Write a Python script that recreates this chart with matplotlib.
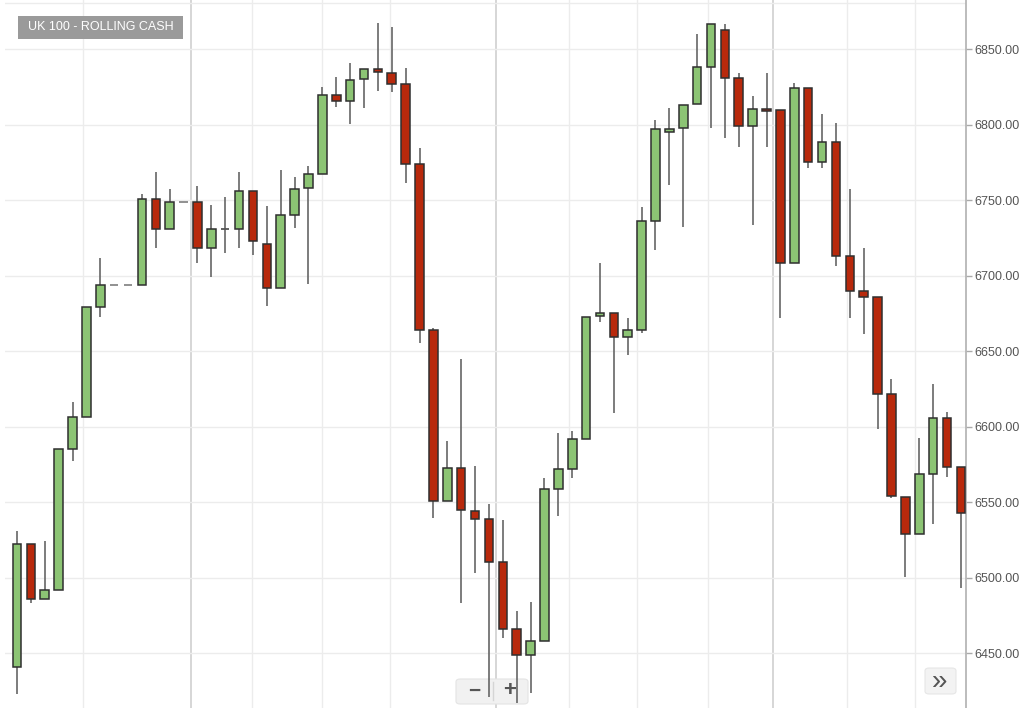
import matplotlib
matplotlib.use("Agg")
import matplotlib.pyplot as plt
from matplotlib.patches import FancyBboxPatch, Rectangle

plt.rcParams['font.family'] = ['Liberation Sans', 'DejaVu Sans']

# OHLC values (UK 100 rolling cash)
opens = [6441, 6522, 6486, 6492, 6585, 6606, 6679, 6694, 6694, 6694,
         6751, 6731, 6749, 6749, 6718, 6731, 6731, 6756, 6721, 6692,
         6740, 6758, 6767, 6819.5, 6815.5, 6830, 6837, 6834, 6827, 6774,
         6664, 6550.5, 6572.5, 6544, 6538.5, 6510, 6466, 6449, 6458, 6558.5,
         6572, 6591.5, 6673, 6675, 6659, 6664, 6736, 6795, 6797.5, 6813.5,
         6838, 6862.5, 6831, 6799, 6810, 6809.5, 6708.5, 6824, 6775, 6788.5,
         6713, 6689.5, 6685.5, 6621.5, 6553.5, 6529, 6568.5, 6605.5, 6573]
highs = [6531, 6522, 6524, 6585, 6616, 6679, 6711.5, 6694, 6694, 6754,
         6768.5, 6757, 6749, 6759, 6747, 6752, 6768.5, 6756, 6746, 6770,
         6765, 6772.5, 6825, 6831.5, 6840.5, 6837, 6867, 6864.5, 6837.5, 6784.5,
         6665, 6590.5, 6645, 6574, 6548.5, 6538, 6478, 6484, 6566, 6596,
         6597, 6672.5, 6708, 6675, 6672, 6745.5, 6803, 6811, 6813, 6860,
         6866.5, 6866.5, 6834, 6819, 6834, 6809.5, 6827.5, 6824, 6807, 6801,
         6757, 6718, 6685.5, 6631.5, 6553.5, 6592.5, 6628, 6609.5, 6573]
lows = [6423, 6483, 6486, 6492, 6577, 6606, 6672.5, 6694, 6694, 6694,
        6718, 6731, 6749, 6708, 6699, 6715, 6718, 6713.5, 6680, 6692,
        6731.5, 6694.5, 6767, 6811.5, 6800.5, 6811, 6822, 6821.5, 6761.5, 6655.5,
        6539.5, 6550.5, 6483, 6503, 6421, 6460, 6417, 6423.5, 6458, 6540.5,
        6566, 6591.5, 6669, 6609, 6647.5, 6662, 6717, 6760, 6732, 6813.5,
        6797.5, 6791, 6785, 6733.5, 6785, 6672, 6708.5, 6771, 6771, 6706.5,
        6672, 6661, 6598.5, 6552.5, 6500.5, 6529, 6535.5, 6566.5, 6493]
closes = [6522, 6486, 6492, 6585, 6606, 6679, 6694, 6694, 6694, 6751,
          6731, 6749, 6749, 6718, 6731, 6731, 6756, 6723, 6692, 6740,
          6757, 6767, 6819.5, 6815.5, 6829.5, 6837, 6835, 6827, 6774, 6664,
          6550.5, 6572.5, 6545, 6538.5, 6510, 6466, 6449, 6458, 6558.5, 6572,
          6591.5, 6672.5, 6675, 6659, 6664, 6736, 6797, 6797, 6813, 6838,
          6866.5, 6831, 6799, 6810, 6809, 6708.5, 6824, 6775, 6788.5, 6713,
          6689.5, 6685.5, 6621.5, 6554, 6529, 6568.5, 6605.5, 6573, 6542.5]

y_ticks = [6450, 6500, 6550, 6600, 6650, 6700, 6750, 6800, 6850]
title = "UK 100 - ROLLING CASH"

# date separators (candle index positions)
minor_days = [4.75, 16.9, 22.0, 26.9, 39.8, 44.7, 49.8, 59.8, 64.7]
week_marks = [12.5, 34.5, 54.5]

green = "#8cc474"
red = "#b8290c"

fig = plt.figure(figsize=(10.24, 7.08), dpi=100)
ax = fig.add_axes([5 / 1024, 0, 961 / 1024, 1])

for x in minor_days:
    ax.axvline(x, color="#ececec", lw=1, zorder=0)
for x in week_marks:
    ax.axvline(x, color="#cfcfcf", lw=1.2, zorder=0)
for y in y_ticks:
    ax.axhline(y, color="#ececec", lw=1, zorder=0)
ax.axhline(6880.5, color="#ececec", lw=1, zorder=0)

# candles
for i in range(len(opens)):
    o, h, l, c = opens[i], highs[i], lows[i], closes[i]
    flat = (o == c == h == l)
    if not flat:
        ax.vlines(i, l, h, color="#666666", lw=1.2, zorder=2)
    col = green if c >= o else red
    if flat:
        ax.hlines(o, i - 0.3, i + 0.3, color="#888888", lw=1.3, zorder=3)
    elif o == c:
        ax.hlines(o, i - 0.3, i + 0.3, color="#555555", lw=1.3, zorder=3)
    else:
        ax.bar(i, abs(c - o), bottom=min(o, c), width=0.62, color=col,
               edgecolor="#2f2f2f", linewidth=1.1, zorder=3)

ax.set_xlim(-0.865, 68.37)
ax.set_ylim(6413.6, 6882.5)

ax.yaxis.tick_right()
ax.set_yticks(y_ticks)
ax.set_yticklabels(["%.2f" % v for v in y_ticks])
ax.tick_params(axis="y", direction="out", length=4, width=1, color="#aaaaaa",
               labelsize=9, labelcolor="#555555", pad=2)
ax.set_xticks([])
for side in ["top", "left", "bottom"]:
    ax.spines[side].set_visible(False)
ax.spines["right"].set_color("#b0b0b0")
ax.spines["right"].set_linewidth(1.2)

# title label box
fig.patches.append(Rectangle((18 / 1024, 1 - 39 / 708), 165 / 1024, 23 / 708,
                             transform=fig.transFigure, fc="#9a9a9a", ec="none"))
fig.text(100.5 / 1024, 1 - 27.5 / 708, title, ha="center", va="center",
         fontsize=9, color="white")

# zoom controls
box = FancyBboxPatch((456 / 1024, 1 - 704 / 708), 72 / 1024, 25 / 708,
                     boxstyle="round,pad=0,rounding_size=0.004",
                     transform=fig.transFigure, fc="#f1f1f1", ec="#e4e4e4",
                     lw=0.8, zorder=1)
ax.add_artist(box)
box.set_transform(fig.transFigure)
fig.text(474 / 1024, 1 - 691 / 708, "\u2212", ha="center", va="center",
         fontsize=15, color="#555555", fontweight="bold")
fig.text(510 / 1024, 1 - 691 / 708, "+", ha="center", va="center",
         fontsize=16, color="#555555", fontweight="bold")
fig.lines.append(plt.Line2D([493 / 1024, 493 / 1024], [1 - 700 / 708, 1 - 682 / 708],
                            transform=fig.transFigure, color="#d5d5d5", lw=1))

box2 = FancyBboxPatch((925 / 1024, 1 - 694 / 708), 31 / 1024, 26 / 708,
                      boxstyle="round,pad=0,rounding_size=0.004",
                      transform=fig.transFigure, fc="#f3f3f3", ec="#e6e6e6",
                      lw=0.8, zorder=1)
ax.add_artist(box2)
box2.set_transform(fig.transFigure)
fig.text(940 / 1024, 1 - 682 / 708, "\u00bb", ha="center", va="center",
         fontsize=20, color="#555555")

fig.savefig("out.png", dpi=100)
